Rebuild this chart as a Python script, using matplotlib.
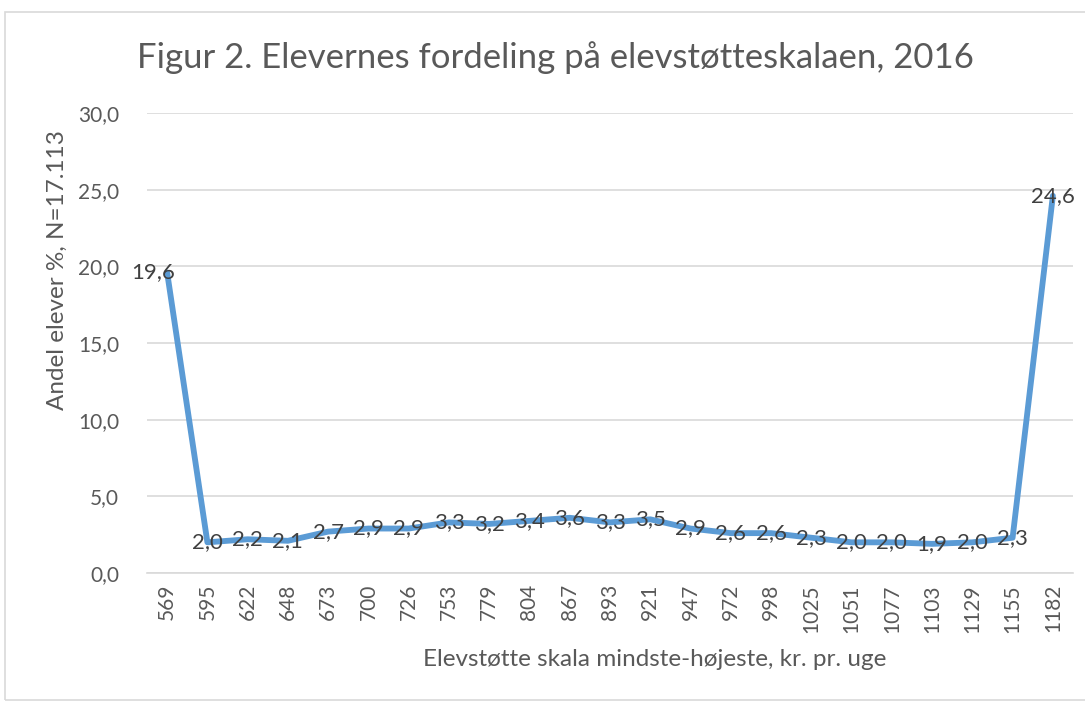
import matplotlib
matplotlib.use("Agg")
import matplotlib.pyplot as plt
from matplotlib.patches import Rectangle

# data
categories = ["569", "595", "622", "648", "673", "700", "726", "753", "779", "804",
              "867", "893", "921", "947", "972", "998", "1025", "1051", "1077",
              "1103", "1129", "1155", "1182"]
values = [19.6, 2.0, 2.2, 2.1, 2.7, 2.9, 2.9, 3.3, 3.2, 3.4, 3.6, 3.3, 3.5,
          2.9, 2.6, 2.6, 2.3, 2.0, 2.0, 1.9, 2.0, 2.3, 24.6]
yticks = [0, 5, 10, 15, 20, 25, 30]

title = "Figur 2. Elevernes fordeling på elevstøtteskalaen, 2016"
xlabel = "Elevstøtte skala mindste-højeste, kr. pr. uge"
ylabel = "Andel elever %, N=17.113"

plt.rcParams['font.family'] = ['Lato', 'DejaVu Sans']

def fmt(v):
    return f"{v:.1f}".replace(".", ",")

fig = plt.figure(figsize=(10.85, 7.04), dpi=100)
# outer chart border
fig.patches.append(Rectangle((5 / 1085, 0.005), 1.2, 1 - 12 / 704 - 0.005,
                             transform=fig.transFigure, fill=False,
                             edgecolor="#D9D9D9", linewidth=1.2))

ax = fig.add_axes([147 / 1085, 1 - 573 / 704, (1073 - 147) / 1085, (573 - 113) / 704])
x = list(range(len(categories)))
ax.plot(x, values, color="#5B9BD5", linewidth=4.2, solid_joinstyle="round",
        solid_capstyle="round", zorder=3)

for i, v in enumerate(values):
    dx = 0
    if i == 0:
        dx = -0.35
    ax.text(i + dx, v, fmt(v), ha="center", va="center", fontsize=16,
            color="#404040", zorder=4, clip_on=False)

ax.set_xlim(-0.5, len(categories) - 0.5)
ax.set_ylim(0, 30)
ax.set_yticks(yticks)
ax.set_yticklabels([fmt(t) for t in yticks], fontsize=15, color="#595959")
ax.set_xticks(x)
ax.set_xticklabels(categories, rotation=90, fontsize=15, color="#595959")
ax.tick_params(axis="y", length=0, pad=20)
ax.tick_params(axis="x", length=0, pad=8)
ax.grid(axis="y", color="#D9D9D9", linewidth=1.2)
ax.set_axisbelow(True)
for s in ["top", "right", "left"]:
    ax.spines[s].set_visible(False)
ax.spines["bottom"].set_color("#D9D9D9")
ax.spines["bottom"].set_linewidth(1.2)

ax.set_xlabel(xlabel, fontsize=17.5, color="#595959")
ax.set_ylabel(ylabel, fontsize=17.5, color="#595959")
ax.xaxis.set_label_coords((655 - 147) / 926, (573 - 660) / 460)
ax.yaxis.set_label_coords((57 - 147) / 926, (573 - 270) / 460)
ax.xaxis.label.set_va("center")
ax.yaxis.label.set_va("center")
fig.text(555 / 1085, 1 - 58 / 704, title, ha="center", va="center",
         fontsize=25, color="#595959")

fig.savefig("out.png", dpi=100)
